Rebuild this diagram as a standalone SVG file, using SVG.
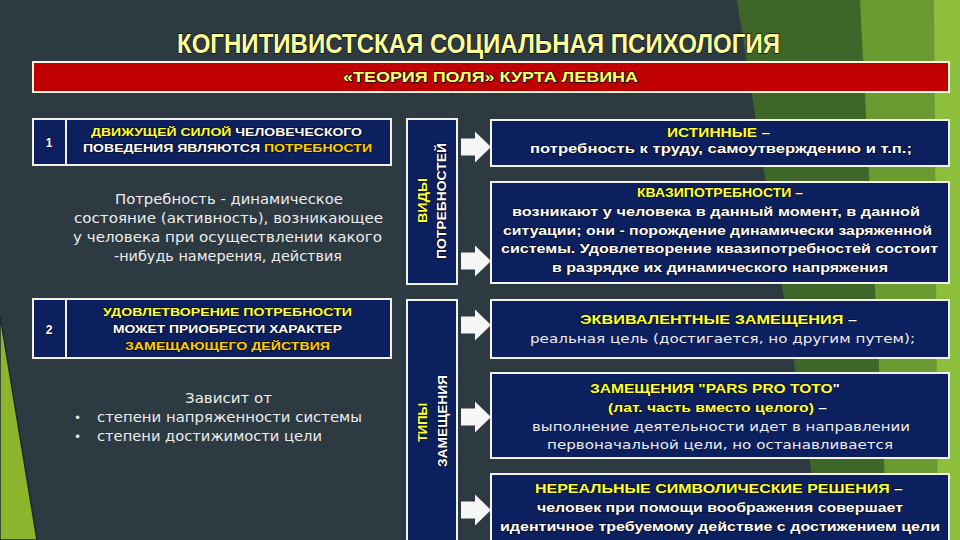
<svg xmlns="http://www.w3.org/2000/svg" width="960" height="540" viewBox="0 0 960 540">
<defs>
<style>
.box{fill:#0c1f5e;stroke:#f2f2ea;stroke-width:2}
.h{font-family:"Liberation Sans",Arial,sans-serif;font-weight:bold;paint-order:stroke;stroke:#0a0f22;stroke-width:1.4;stroke-linejoin:round}
.r{font-family:"DejaVu Sans",Verdana,sans-serif;fill:#ececec}
.y{fill:#ffff33}
.g{fill:#ffcc00}
.w{fill:#ffffff}
.arr{fill:#f6f6f6}
</style>
<path id="blk" d="M0,-8.5 H14 V-15.5 L30,0 L14,15.5 V8.5 H0 Z"/>
</defs>
<rect width="960" height="540" fill="#2d3a42"/>
<polygon points="737,0 960,0 960,540 822,540" fill="#3e6628"/>
<polygon points="860,0 960,0 960,540 888,540" fill="#6a9a30"/>
<polygon points="934,0 960,0 960,540 938,540" fill="#8dbf3c"/>
<polygon points="0,315 37,540 0,540" fill="#8cb52e" stroke="#1e2a30" stroke-width="1.5"/>

<g id="title">
<text class="h" x="177" y="53" font-size="27.5" textLength="603" lengthAdjust="spacingAndGlyphs" fill="#ffff99" stroke="#151515" stroke-width="2">КОГНИТИВИСТСКАЯ СОЦИАЛЬНАЯ ПСИХОЛОГИЯ</text>
</g>

<g id="banner">
<rect x="33" y="62" width="916" height="30" fill="#c00000" stroke="#fbf5e0" stroke-width="2"/>
<text class="h" x="343" y="82" font-size="14" textLength="295" lengthAdjust="spacingAndGlyphs" fill="#ffff66">«ТЕОРИЯ ПОЛЯ» КУРТА ЛЕВИНА</text>
</g>

<g id="point1">
<rect class="box" x="33" y="119" width="358" height="46"/>
<line x1="66" y1="119" x2="66" y2="165" stroke="#f2f2ea" stroke-width="2"/>
<text class="h w" x="49" y="147" font-size="12" text-anchor="middle">1</text>
<text class="h" x="91" y="136" font-size="11.5" textLength="271" lengthAdjust="spacingAndGlyphs"><tspan class="y">ДВИЖУЩЕЙ СИЛОЙ</tspan><tspan class="w"> ЧЕЛОВЕЧЕСКОГО</tspan></text>
<text class="h" x="83" y="152" font-size="11.5" textLength="289" lengthAdjust="spacingAndGlyphs"><tspan class="w">ПОВЕДЕНИЯ ЯВЛЯЮТСЯ </tspan><tspan class="g">ПОТРЕБНОСТИ</tspan></text>
</g>

<g id="definition">
<text class="r" x="115" y="204" font-size="13.5" textLength="228" lengthAdjust="spacingAndGlyphs">Потребность - динамическое</text>
<text class="r" x="74" y="223" font-size="13.5" textLength="309" lengthAdjust="spacingAndGlyphs">состояние (активность), возникающее</text>
<text class="r" x="73" y="242" font-size="13.5" textLength="309" lengthAdjust="spacingAndGlyphs">у человека при осуществлении какого</text>
<text class="r" x="114" y="261" font-size="13.5" textLength="228" lengthAdjust="spacingAndGlyphs">-нибудь намерения, действия</text>
</g>

<g id="point2">
<rect class="box" x="33" y="299" width="358" height="59"/>
<line x1="66" y1="299" x2="66" y2="358" stroke="#f2f2ea" stroke-width="2"/>
<text class="h w" x="49" y="334" font-size="12" text-anchor="middle">2</text>
<text class="h y" x="103" y="316" font-size="11.5" textLength="249" lengthAdjust="spacingAndGlyphs">УДОВЛЕТВОРЕНИЕ ПОТРЕБНОСТИ</text>
<text class="h w" x="113" y="333" font-size="11.5" textLength="229" lengthAdjust="spacingAndGlyphs">МОЖЕТ ПРИОБРЕСТИ ХАРАКТЕР</text>
<text class="h g" x="125" y="350" font-size="11.5" textLength="205" lengthAdjust="spacingAndGlyphs">ЗАМЕЩАЮЩЕГО ДЕЙСТВИЯ</text>
</g>

<g id="depends">
<text class="r" x="185" y="403" font-size="13.5" textLength="87" lengthAdjust="spacingAndGlyphs">Зависит от</text>
<text class="r" x="74" y="422" font-size="12">•</text>
<text class="r" x="97" y="422" font-size="13.5" textLength="265" lengthAdjust="spacingAndGlyphs">степени напряженности системы</text>
<text class="r" x="74" y="441" font-size="12">•</text>
<text class="r" x="97" y="441" font-size="13.5" textLength="225" lengthAdjust="spacingAndGlyphs">степени достижимости цели</text>
</g>

<g id="needs-types">
<rect class="box" x="407" y="119" width="50" height="165"/>
<text class="h y" transform="translate(427,223) rotate(-90)" font-size="13" textLength="45" lengthAdjust="spacingAndGlyphs">ВИДЫ</text>
<text class="h w" transform="translate(446,259) rotate(-90)" font-size="13" textLength="116" lengthAdjust="spacingAndGlyphs">ПОТРЕБНОСТЕЙ</text>
</g>

<g id="substitution-types">
<rect class="box" x="407" y="300" width="50" height="250"/>
<text class="h y" transform="translate(427,442) rotate(-90)" font-size="13" textLength="39" lengthAdjust="spacingAndGlyphs">ТИПЫ</text>
<text class="h w" transform="translate(447,467) rotate(-90)" font-size="13" textLength="92" lengthAdjust="spacingAndGlyphs">ЗАМЕЩЕНИЯ</text>
</g>

<g id="true-needs">
<rect class="box" x="491" y="120" width="458" height="46"/>
<text class="h" x="667" y="137" font-size="13" textLength="103" lengthAdjust="spacingAndGlyphs"><tspan class="y">ИСТИННЫЕ</tspan><tspan class="w"> –</tspan></text>
<text class="h w" x="530" y="153" font-size="12.5" textLength="382" lengthAdjust="spacingAndGlyphs">потребность к труду, самоутверждению и т.п.;</text>
</g>

<g id="quasi-needs">
<rect class="box" x="491" y="182" width="458" height="101"/>
<text class="h" x="637" y="197" font-size="12" textLength="166" lengthAdjust="spacingAndGlyphs"><tspan class="y">КВАЗИПОТРЕБНОСТИ</tspan><tspan class="w"> –</tspan></text>
<text class="h w" x="512" y="216" font-size="13" textLength="408" lengthAdjust="spacingAndGlyphs">возникают у человека в данный момент, в данной</text>
<text class="h w" x="503" y="235" font-size="13" textLength="429" lengthAdjust="spacingAndGlyphs">ситуации; они - порождение динамически заряженной</text>
<text class="h w" x="501" y="253" font-size="13" textLength="437" lengthAdjust="spacingAndGlyphs">системы. Удовлетворение квазипотребностей состоит</text>
<text class="h w" x="552" y="272" font-size="13" textLength="336" lengthAdjust="spacingAndGlyphs">в разрядке их динамического напряжения</text>
</g>

<g id="equivalent">
<rect class="box" x="491" y="300" width="458" height="58"/>
<text class="h" x="580" y="324" font-size="13" textLength="277" lengthAdjust="spacingAndGlyphs"><tspan class="y">ЭКВИВАЛЕНТНЫЕ ЗАМЕЩЕНИЯ</tspan><tspan class="w"> –</tspan></text>
<text class="r" x="530" y="343" font-size="13" textLength="385" lengthAdjust="spacingAndGlyphs">реальная цель (достигается, но другим путем);</text>
</g>

<g id="pars-pro-toto">
<rect class="box" x="491" y="373" width="458" height="85"/>
<text class="h" x="590" y="393" font-size="13" textLength="250" lengthAdjust="spacingAndGlyphs"><tspan class="y">ЗАМЕЩЕНИЯ "PARS PRO TOTO</tspan><tspan class="w">"</tspan></text>
<text class="h" x="608" y="412" font-size="12" textLength="219" lengthAdjust="spacingAndGlyphs"><tspan class="y">(лат. часть вместо целого)</tspan><tspan class="w"> –</tspan></text>
<text class="r" x="532" y="431" font-size="13" textLength="378" lengthAdjust="spacingAndGlyphs">выполнение деятельности идет в направлении</text>
<text class="r" x="547" y="449" font-size="13" textLength="346" lengthAdjust="spacingAndGlyphs">первоначальной цели, но останавливается</text>
</g>

<g id="unreal">
<rect class="box" x="491" y="474" width="458" height="80"/>
<text class="h" x="535" y="493" font-size="13" textLength="368" lengthAdjust="spacingAndGlyphs"><tspan class="y">НЕРЕАЛЬНЫЕ СИМВОЛИЧЕСКИЕ РЕШЕНИЯ</tspan><tspan class="w"> –</tspan></text>
<text class="h w" x="537" y="512" font-size="13" textLength="366" lengthAdjust="spacingAndGlyphs">человек при помощи воображения совершает</text>
<text class="h w" x="500" y="531" font-size="13" textLength="440" lengthAdjust="spacingAndGlyphs">идентичное требуемому действие с достижением цели</text>
</g>

<g id="connectors" class="arr">
<use href="#blk" x="461" y="147"/>
<use href="#blk" x="461" y="261"/>
<use href="#blk" x="461" y="325"/>
<use href="#blk" x="461" y="417"/>
<use href="#blk" x="461" y="510"/>
</g>
</svg>
